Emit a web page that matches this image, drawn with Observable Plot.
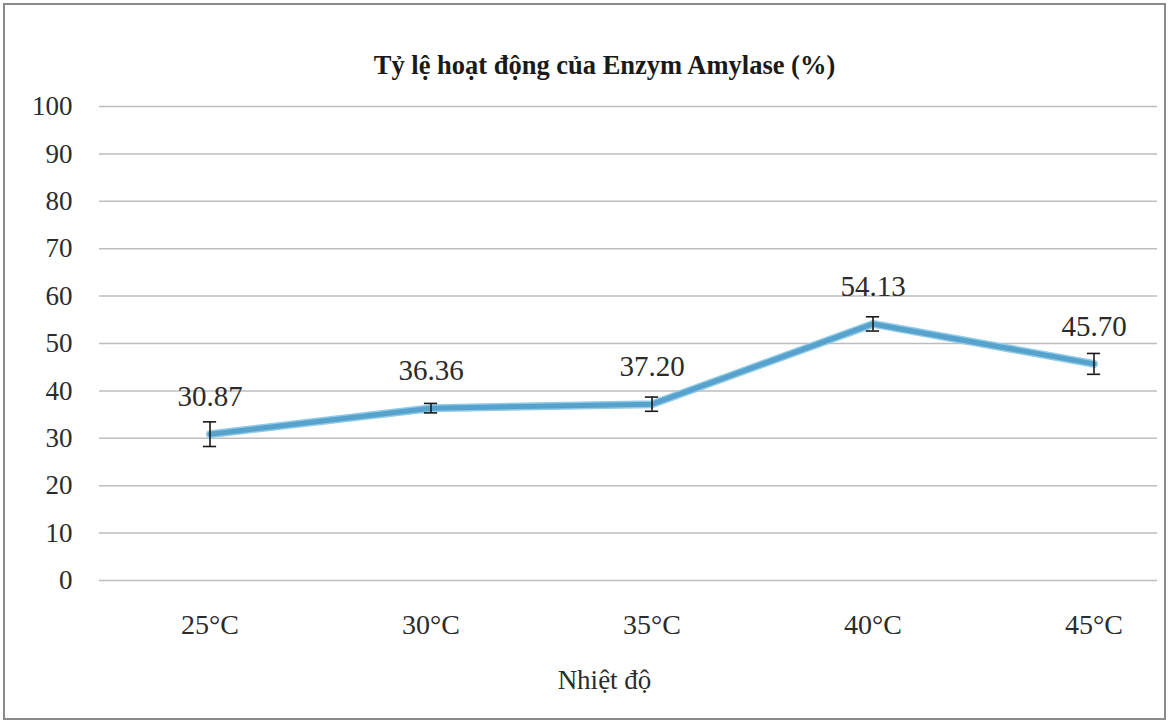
<!DOCTYPE html>
<html>
<head>
<meta charset="utf-8">
<script src="https://cdn.jsdelivr.net/npm/d3@7"></script>
<script src="https://cdn.jsdelivr.net/npm/@observablehq/plot@0.6"></script>
<style>
  html, body { margin: 0; padding: 0; background: #fff; }
  #wrap { position: relative; width: 1173px; height: 727px; }
  #border { position: absolute; left: 3px; top: 3px; width: 1163px; height: 717px; border: 2px solid #8a8a8a; box-sizing: border-box; pointer-events: none; }
</style>
</head>
<body>
<div id="wrap"><div id="border"></div></div>
<script>
const categories = ["25°C", "30°C", "35°C", "40°C", "45°C"];
const values = [30.87, 36.36, 37.20, 54.13, 45.70];
const errors = [2.6, 1.0, 1.5, 1.5, 2.2];
const valueLabels = ["30.87", "36.36", "37.20", "54.13", "45.70"];
const yTicks = [0, 10, 20, 30, 40, 50, 60, 70, 80, 90, 100];
const title = "Tỷ lệ hoạt động của Enzym Amylase (%)";
const xLabel = "Nhiệt độ";

const data = categories.map((c, i) => ({
  cat: c, v: values[i], lo: values[i] - errors[i], hi: values[i] + errors[i], label: valueLabels[i]
}));

const bw = (1095 - 208) / 4;
const capInset = (bw - 14) / 2;

const chart = Plot.plot({
  width: 1173,
  height: 727,
  marginTop: 106,
  marginBottom: 147,
  marginLeft: 99,
  marginRight: 16,
  style: { fontFamily: "'Liberation Serif', 'DejaVu Serif', serif", fontSize: "28px", color: "#2b2b2b", background: "transparent", overflow: "visible" },
  x: { type: "band", domain: categories, range: [208 - bw / 2, 1095 + bw / 2], padding: 0, label: null },
  y: { domain: [0, 100], label: null },
  marks: [
    Plot.ruleY(yTicks, { stroke: "#bdbdbd", strokeWidth: 1.5 }),
    Plot.axisY({ ticks: yTicks, tickSize: 0, tickPadding: 27, fontSize: 27, label: null }),
    Plot.axisX({ tickSize: 0, tickPadding: 34, fontSize: 28, label: null }),
    Plot.line(data, { x: "cat", y: "v", stroke: "#92cbe6", strokeWidth: 8, strokeLinejoin: "round" }),
    Plot.line(data, { x: "cat", y: "v", stroke: "#56a2cc", strokeWidth: 5, strokeLinejoin: "round" }),
    Plot.ruleX(data, { x: "cat", y1: "lo", y2: "hi", stroke: "#1a1a1a", strokeWidth: 1.6 }),
    Plot.tickY(data, { x: "cat", y: "lo", stroke: "#1a1a1a", strokeWidth: 1.6, insetLeft: capInset, insetRight: capInset }),
    Plot.tickY(data, { x: "cat", y: "hi", stroke: "#1a1a1a", strokeWidth: 1.6, insetLeft: capInset, insetRight: capInset }),
    Plot.text(data, { x: "cat", y: "v", text: "label", dy: -37, fontSize: 29, fill: "#2b2b2b" }),
    Plot.text([title], { frameAnchor: "top", lineAnchor: "middle", dy: -41, dx: -24, fontSize: 26.5, fontWeight: "bold", fill: "#1a1a1a" }),
    Plot.text([xLabel], { frameAnchor: "bottom", lineAnchor: "middle", dy: 100, dx: -24, fontSize: 27, fill: "#2b2b2b" })
  ]
});
document.getElementById("wrap").prepend(chart);
</script>
</body>
</html>
